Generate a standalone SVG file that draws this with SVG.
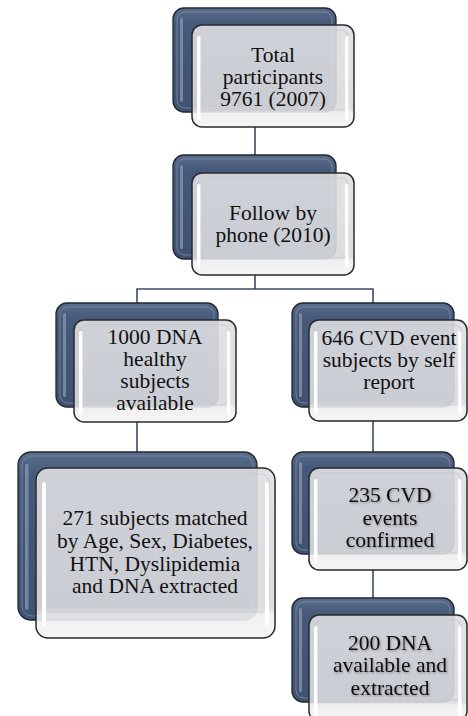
<svg xmlns="http://www.w3.org/2000/svg" width="468" height="716" viewBox="0 0 468 716">
<defs>
<linearGradient id="gDk" x1="0" y1="0" x2="0" y2="1">
<stop offset="0" stop-color="#5a6d8a"/>
<stop offset="0.15" stop-color="#46597a"/>
<stop offset="1" stop-color="#3f5272"/>
</linearGradient>
<linearGradient id="gLt" x1="0" y1="0" x2="0" y2="1">
<stop offset="0" stop-color="#dedfe2"/>
<stop offset="0.82" stop-color="#d9dadd"/>
<stop offset="0.86" stop-color="#eeeeef"/>
<stop offset="1" stop-color="#f4f4f5"/>
</linearGradient>
<filter id="sh" x="-10%" y="-10%" width="120%" height="130%">
<feDropShadow dx="1" dy="1.2" stdDeviation="0.8" flood-color="#000" flood-opacity="0.35"/>
</filter>
</defs>
<style>
.dk{fill:url(#gDk);stroke:#1f2733;stroke-width:1.3}
.dkin{fill:none;stroke:#7d8ca3;stroke-width:1;opacity:0.8}
.dkhl{fill:#9aa8bd;opacity:0.6}
.lt{fill:url(#gLt);fill-opacity:0.9;stroke:#2a2a2a;stroke-width:1.5}
.ltin{fill:none;stroke:#c9cacd;stroke-width:1}
.lthl{fill:#ffffff;opacity:0.95}
.tx{font-size:21.5px;fill:#111;text-anchor:middle}
.cn{stroke:#3b4a63;stroke-width:1.6;fill:none}
</style>
<g id="connectors">
<line class="cn" x1="255" y1="127" x2="255" y2="155"/>
<polyline class="cn" points="255,275 255,289"/>
<polyline class="cn" points="137,303 137,289 373,289 373,303"/>
<line class="cn" x1="137" y1="422" x2="137" y2="452"/>
<line class="cn" x1="373" y1="421" x2="373" y2="452"/>
<line class="cn" x1="373" y1="570" x2="373" y2="598"/>
</g>
<g font-family="Liberation Serif, Tinos, Times New Roman, DejaVu Serif, serif">
<g id="n1">
<rect class="dk" x="173" y="8" width="163" height="104" rx="11"/>
<rect class="dkin" x="177" y="12" width="155" height="96" rx="8"/>
<rect class="dkhl" x="180" y="18" width="3" height="84" rx="1.5"/>
<rect class="lt" x="192" y="25" width="162" height="102" rx="10"/>
<rect class="ltin" x="198" y="30" width="150" height="80" rx="7"/>
<rect class="lthl" x="197" y="36" width="3.5" height="84" rx="1.7"/>
<rect class="lthl" x="345" y="36" width="3.5" height="84" rx="1.7"/>
<text class="tx" x="273" y="62">Total</text>
<text class="tx" x="273" y="84">participants</text>
<text class="tx" x="273" y="106">9761 (2007)</text>
</g>
<g id="n2">
<rect class="dk" x="173" y="155" width="163" height="104" rx="11"/>
<rect class="dkin" x="177" y="159" width="155" height="96" rx="8"/>
<rect class="dkhl" x="180" y="165" width="3" height="84" rx="1.5"/>
<rect class="lt" x="192" y="173" width="162" height="102" rx="10"/>
<rect class="ltin" x="198" y="178" width="150" height="80" rx="7"/>
<rect class="lthl" x="197" y="184" width="3.5" height="84" rx="1.7"/>
<rect class="lthl" x="345" y="184" width="3.5" height="84" rx="1.7"/>
<text class="tx" x="273" y="220">Follow by</text>
<text class="tx" x="273" y="242">phone (2010)</text>
</g>
<g id="n3">
<rect class="dk" x="56" y="303" width="162" height="104" rx="11"/>
<rect class="dkin" x="60" y="307" width="154" height="96" rx="8"/>
<rect class="dkhl" x="63" y="313" width="3" height="84" rx="1.5"/>
<rect class="lt" x="74" y="320" width="162" height="102" rx="10"/>
<rect class="ltin" x="80" y="325" width="150" height="80" rx="7"/>
<rect class="lthl" x="79" y="331" width="3.5" height="84" rx="1.7"/>
<rect class="lthl" x="227" y="331" width="3.5" height="84" rx="1.7"/>
<text class="tx" x="155" y="344">1000 DNA</text>
<text class="tx" x="155" y="366">healthy</text>
<text class="tx" x="155" y="388">subjects</text>
<text class="tx" x="155" y="410">available</text>
</g>
<g id="n4">
<rect class="dk" x="292" y="303" width="162" height="104" rx="11"/>
<rect class="dkin" x="296" y="307" width="154" height="96" rx="8"/>
<rect class="dkhl" x="299" y="313" width="3" height="84" rx="1.5"/>
<rect class="lt" x="309" y="320" width="158" height="101" rx="10"/>
<rect class="ltin" x="315" y="325" width="146" height="80" rx="7"/>
<rect class="lthl" x="314" y="331" width="3.5" height="83" rx="1.7"/>
<rect class="lthl" x="458" y="331" width="3.5" height="83" rx="1.7"/>
<text class="tx" x="389" y="345">646 CVD event</text>
<text class="tx" x="389" y="367">subjects by self</text>
<text class="tx" x="389" y="389">report</text>
</g>
<g id="n5">
<rect class="dk" x="18" y="452" width="239" height="168" rx="13"/>
<rect class="dkin" x="22" y="456" width="231" height="160" rx="10"/>
<rect class="dkhl" x="25" y="464" width="3.5" height="146" rx="1.7"/>
<rect class="lt" x="36" y="468" width="239" height="170" rx="12"/>
<rect class="ltin" x="42" y="474" width="227" height="138" rx="8"/>
<rect class="lthl" x="42" y="482" width="4" height="144" rx="2"/>
<rect class="lthl" x="265" y="482" width="4" height="144" rx="2"/>
<text class="tx" x="155" y="525">271 subjects matched</text>
<text class="tx" x="155" y="548">by Age, Sex, Diabetes,</text>
<text class="tx" x="155" y="571">HTN, Dyslipidemia</text>
<text class="tx" x="155" y="593">and DNA extracted</text>
</g>
<g id="n6">
<rect class="dk" x="292" y="452" width="162" height="102" rx="11"/>
<rect class="dkin" x="296" y="456" width="154" height="94" rx="8"/>
<rect class="dkhl" x="299" y="462" width="3" height="82" rx="1.5"/>
<rect class="lt" x="309" y="468" width="158" height="102" rx="10"/>
<rect class="ltin" x="315" y="473" width="146" height="80" rx="7"/>
<rect class="lthl" x="314" y="479" width="3.5" height="84" rx="1.7"/>
<rect class="lthl" x="458" y="479" width="3.5" height="84" rx="1.7"/>
<text class="tx" x="390" y="502" filter="url(#sh)">235 CVD</text>
<text class="tx" x="390" y="525" filter="url(#sh)">events</text>
<text class="tx" x="390" y="547" filter="url(#sh)">confirmed</text>
</g>
<g id="n7">
<rect class="dk" x="292" y="598" width="162" height="104" rx="11"/>
<rect class="dkin" x="296" y="602" width="154" height="96" rx="8"/>
<rect class="dkhl" x="299" y="608" width="3" height="84" rx="1.5"/>
<rect class="lt" x="309" y="615" width="158" height="106" rx="10"/>
<rect class="ltin" x="315" y="620" width="146" height="80" rx="7"/>
<rect class="lthl" x="314" y="626" width="3.5" height="90" rx="1.7"/>
<rect class="lthl" x="458" y="626" width="3.5" height="90" rx="1.7"/>
<text class="tx" x="390" y="650" filter="url(#sh)">200 DNA</text>
<text class="tx" x="390" y="672" filter="url(#sh)">available and</text>
<text class="tx" x="390" y="695" filter="url(#sh)">extracted</text>
</g>
</g>
</svg>
